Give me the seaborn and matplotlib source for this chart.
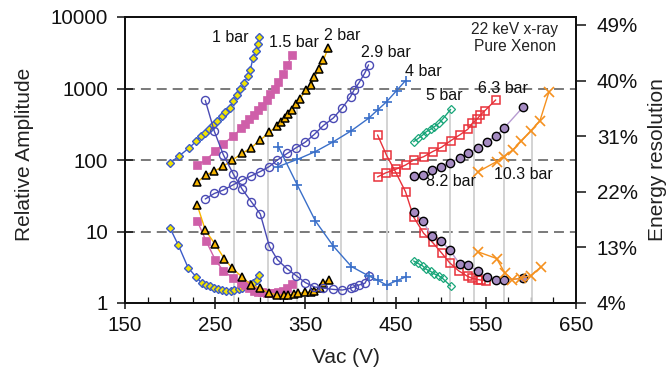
import matplotlib
matplotlib.use("Agg")
import matplotlib.pyplot as plt
import seaborn as sns
from matplotlib.ticker import FixedLocator, NullLocator

# ---------------- data ----------------
pressures = ["1 bar", "1.5 bar", "2 bar", "2.9 bar", "4 bar", "5 bar", "6.3 bar", "8.2 bar", "10.3 bar"]

p1_amp_v = [200, 210, 221, 229, 234, 239, 243, 248, 252, 257, 261, 266, 270, 274, 278, 282, 286, 289, 292, 295, 297, 299]
p1_amp = [91, 114, 147, 183, 214, 242, 271, 309, 351, 407, 468, 540, 670, 810, 970, 1190, 1490, 1840, 2700, 3380, 4230, 5200]
p1_res_v = [200, 209, 220, 229, 235, 240, 244, 249, 253, 258, 262, 267, 271, 276, 280, 284, 289, 292, 296, 299]
p1_res = [16.1, 13.4, 9.7, 8.2, 7.2, 6.9, 6.7, 6.5, 6.3, 6.1, 6.0, 6.0, 6.1, 6.3, 6.4, 6.7, 7.0, 7.3, 7.7, 8.6]

p15_v = [230, 240, 250, 259, 270, 279, 283, 288, 293, 298, 302, 307, 311, 316, 320, 325, 330, 335]
p15_amp = [85, 100, 134, 167, 217, 278, 318, 370, 425, 500, 569, 692, 838, 1000, 1244, 1590, 2140, 2940]
p15_res = [17.3, 14.0, 11.0, 9.2, 8.0, 7.3, 6.9, 6.4, 6.0, 5.8, 5.7, 5.65, 5.6, 5.6, 5.7, 5.9, 6.4, 7.1]

p2_amp_v = [230, 240, 249, 259, 269, 280, 290, 300, 310, 319, 323, 327, 331, 335, 340, 344, 351, 356, 360, 365, 370, 375]
p2_amp = [49, 62, 70, 82, 100, 124, 149, 190, 244, 302, 343, 392, 435, 500, 603, 720, 955, 1110, 1435, 1845, 2500, 3640]
p2_res_v = [230, 239, 250, 260, 269, 280, 290, 300, 310, 319, 326, 331, 337, 342, 350, 356, 360, 366, 370, 376]
p2_res = [19.9, 15.8, 13.5, 11.2, 9.6, 8.2, 6.9, 6.4, 5.6, 5.3, 5.3, 5.3, 5.5, 5.6, 5.7, 5.8, 6.0, 6.4, 7.3, 7.8]

p29_v = [239, 249, 259, 270, 280, 290, 300, 310, 319, 330, 340, 350, 360, 370, 381, 391, 400, 404, 409, 416, 420]
p29_amp = [28.5, 34, 38, 45, 52.5, 60, 69, 81, 100, 124, 149, 178, 229, 304, 387, 539, 768, 955, 1180, 1660, 2140]
p29_res = [36.8, 31.8, 28.0, 24.9, 22.4, 20.4, 18.4, 13.2, 11.0, 9.5, 8.4, 7.3, 6.6, 6.4, 6.2, 6.1, 6.4, 6.6, 6.9, 7.2, 8.3]

p4_v = [320, 341, 361, 381, 401, 420, 430, 440, 451, 461]
p4_amp = [81, 102, 131, 180, 257, 383, 500, 653, 931, 1290]
p4_res = [29.3, 23.1, 17.3, 13.2, 9.9, 8.4, 7.7, 6.9, 7.6, 8.2]

p5_v = [470, 475, 480, 484, 489, 493, 498, 502, 511]
p5_amp = [180, 200, 223, 249, 270, 292, 326, 371, 510]
p5_res = [10.8, 10.4, 10.0, 9.45, 9.1, 8.7, 8.4, 8.0, 6.75]

p63_amp_v = [430, 439, 450, 461, 470, 481, 491, 501, 511, 521, 530, 535, 540, 544, 549, 561]
p63_amp = [58, 66, 74, 85, 100, 111, 131, 151, 186, 224, 269, 326, 370, 426, 490, 692]
p63_res_v = [430, 440, 450, 461, 470, 481, 491, 501, 510, 520, 530, 535, 541, 545, 550]
p63_res = [31.2, 27.9, 25.2, 22.0, 17.9, 15.3, 13.8, 12.1, 10.5, 9.2, 8.3, 8.0, 7.8, 7.7, 7.6]

p82_v = [470, 480, 490, 500, 510, 521, 530, 541, 551, 561, 570, 591]
p82_amp = [60, 62, 72.5, 81, 92, 106, 124, 146, 180, 217, 277, 546]
p82_res = [18.8, 17.3, 14.8, 14.1, 12.6, 10.3, 10.1, 9.2, 8.2, 7.8, 7.7, 8.0]

p103_amp_v = [541, 562, 570, 580, 589, 600, 610, 620]
p103_amp = [68, 95, 111, 139, 182, 257, 354, 890]
p103_res_v = [541, 562, 571, 579, 589, 600, 611]
p103_res = [12.3, 11.2, 8.9, 7.8, 8.0, 8.45, 9.8]

stem_v = [271, 308, 341, 389, 441, 510, 537, 570, 601]
stem_top = [760, 700, 630, 530, 660, 510, 400, 285, 262]

grid_levels = [10, 100, 1000]
x_ticks = [150, 250, 350, 450, 550, 650]
y_ticks = [1, 10, 100, 1000, 10000]
res_ticks = [4, 13, 22, 31, 40, 49]

label_pos_v = [267, 337, 391, 439, 481, 504, 569, 511, 592]
label_pos_a = [5130, 4470, 5600, 3170, 1720, 811, 1007, 49.7, 61.7]

# ---------------- style ----------------
sns.set_style("ticks")
plt.rcParams["font.family"] = ["Liberation Sans", "DejaVu Sans"]

fig = plt.figure(figsize=(6.7, 3.71), dpi=100)
ax = fig.add_axes([125 / 670, 1 - 303 / 371, (576 - 125) / 670, (303 - 17) / 371])
ax2 = ax.twinx()

styles = [
    dict(marker="D", markersize=4.3, markerfacecolor="#f0e400", markeredgecolor="#3b5bc9", markeredgewidth=1.0, color="#3b5bc9"),
    dict(marker="s", markersize=5.6, markerfacecolor="#cf5fa9", markeredgecolor="#cf5fa9", markeredgewidth=0.5, color="#cf5fa9"),
    dict(marker="^", markersize=6.0, markerfacecolor="#f7b500", markeredgecolor="black", markeredgewidth=1.1, color="#f7b500"),
    dict(marker="o", markersize=5.8, markerfacecolor="none", markeredgecolor="#4a4ab4", markeredgewidth=1.0, color="#4a4ab4"),
    dict(marker="+", markersize=7.5, markerfacecolor="none", markeredgecolor="#3a6fc9", markeredgewidth=1.2, color="#3a6fc9"),
    dict(marker="D", markersize=3.8, markerfacecolor="none", markeredgecolor="#19a67a", markeredgewidth=0.9, color="#19a67a"),
    dict(marker="s", markersize=5.5, markerfacecolor="none", markeredgecolor="#e8313a", markeredgewidth=1.1, color="#e8313a"),
    dict(marker="o", markersize=6.0, markerfacecolor="#a58bc2", markeredgecolor="black", markeredgewidth=1.0, color="#b79bd1"),
    dict(marker="x", markersize=6.5, markerfacecolor="none", markeredgecolor="#f5911f", markeredgewidth=1.2, color="#f5911f"),
]

amp_series = [
    (p1_amp_v, p1_amp), (p15_v, p15_amp), (p2_amp_v, p2_amp), (p29_v, p29_amp), (p4_v, p4_amp),
    (p5_v, p5_amp), (p63_amp_v, p63_amp), (p82_v, p82_amp), (p103_amp_v, p103_amp),
]
res_series = [
    (p1_res_v, p1_res), (p15_v, p15_res), (p2_res_v, p2_res), (p29_v, p29_res), (p4_v, p4_res),
    (p5_v, p5_res), (p63_res_v, p63_res), (p82_v, p82_res), (p103_res_v, p103_res),
]

ax.set_yscale("log")

# grid lines and stems
for lvl in grid_levels:
    ax.axhline(lvl, color="#6f6f6f", lw=1.3, dashes=(5.5, 3.3), zorder=0.5)
ax.vlines(stem_v, 1, stem_top, color="#d0d0d0", lw=1.3, zorder=0.8)

for (xv, yv), st in zip(amp_series, styles):
    sns.lineplot(x=xv, y=yv, ax=ax, estimator=None, sort=False, lw=1.0, zorder=3, **st)
for (xv, yv), st in zip(res_series, styles):
    sns.lineplot(x=xv, y=yv, ax=ax2, estimator=None, sort=False, lw=1.0, zorder=3, **st)

ax.set_xlim(150, 650)
ax.set_ylim(1, 10000)
ax2.set_ylim(4, 4 + 286 / 6.178)

# labels on the curves
for name, lv, la in zip(pressures, label_pos_v, label_pos_a):
    ax.text(lv, la, name, ha="center", va="center", fontsize=11.5, color="#111111", zorder=5)
ax.text(582, 5080, "22 keV x-ray\nPure Xenon", ha="center", va="center", fontsize=11.2,
        linespacing=1.15, color="#222222", zorder=5)

# ticks
ax.set_xticks(x_ticks)
ax.set_xticklabels([str(t) for t in x_ticks])
ax.xaxis.set_minor_locator(FixedLocator([v for v in range(150, 651, 25) if v not in x_ticks]))
ax.set_yticks(y_ticks)
ax.set_yticklabels([str(t) for t in y_ticks])
ax.yaxis.set_minor_locator(NullLocator())
ax.tick_params(axis="x", which="major", direction="inout", length=9, width=1.1, labelsize=14.8, pad=5, colors="#111111")
ax.tick_params(axis="x", which="minor", direction="in", length=4.5, width=0.9, colors="#111111")
ax.tick_params(axis="y", which="major", direction="inout", length=12, width=1.1, labelsize=14.8, pad=6, colors="#111111")

ax2.set_yticks(res_ticks)
ax2.set_yticklabels([f"{t}%" for t in res_ticks])
ax2.yaxis.set_minor_locator(NullLocator())
ax2.tick_params(axis="y", which="major", direction="out", length=7, width=1.1, labelsize=14.8, pad=8, colors="#111111")

for a in (ax, ax2):
    for sp in a.spines.values():
        sp.set_visible(True)
        sp.set_linewidth(1.4)
        sp.set_color("#111111")

ax.set_xlabel("Vac (V)", fontsize=15, color="#222222")
ax.xaxis.label.set_va("center")
ax.xaxis.set_label_coords(0.489, -0.189)
ax.set_ylabel("Relative Amplitude", fontsize=15, color="#222222")
ax.yaxis.label.set_va("center")
ax.yaxis.set_label_coords(-0.222, 0.521)
ax2.set_ylabel("Energy resolution", fontsize=15, color="#222222", rotation=90)
ax2.yaxis.label.set_va("center")
ax2.yaxis.set_label_coords(1.18, 0.503)

fig.savefig("out.png", dpi=100)
